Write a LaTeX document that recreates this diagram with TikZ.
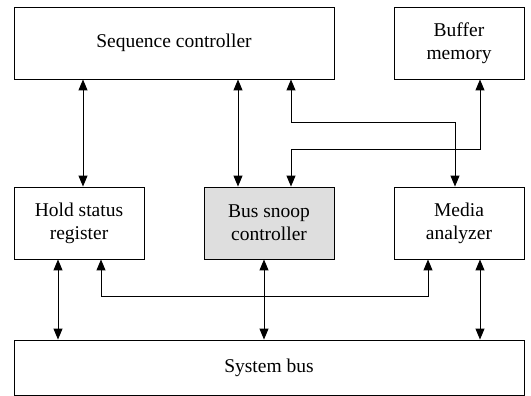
\documentclass[tikz,border=0pt]{standalone}
\usepackage{fontspec}
\setmainfont{Liberation Serif}
\usetikzlibrary{arrows.meta}
\begin{document}
\begin{tikzpicture}[x=1pt,y=-1pt,
  block/.style={draw,line width=0.9pt,rectangle,minimum height=72pt,
    inner sep=0pt,align=center,
    font=\fontsize{19.5pt}{23pt}\selectfont},
  link/.style={line width=1pt,
    {Triangle[length=11pt,width=9pt]}-{Triangle[length=11pt,width=9pt]}}]
\useasboundingbox (0,0) rectangle (531,396);

% blocks
\node[block,minimum width=320pt] (seq) at (174,43) {Sequence controller};
\node[block,minimum width=130pt] (buf) at (459,43) {Buffer\\memory};
\node[block,minimum width=130pt] (hold) at (79,223) {Hold status\\register};
\node[block,minimum width=130pt,fill=black!13] (snoop) at (269,223) {Bus snoop\\controller};
\node[block,minimum width=130pt] (media) at (459,223) {Media\\analyzer};
\node[block,minimum width=510pt,minimum height=55pt] (bus) at (269,367.5) {System bus};

% columns and routing levels
\coordinate (xa) at (83,0);
\coordinate (xb) at (238,0);
\coordinate (xc) at (291,0);
\coordinate (xd) at (455,0);
\coordinate (xe) at (480,0);
\coordinate (ya) at (0,123);
\coordinate (yb) at (0,150);
\coordinate (xf) at (58,0);
\coordinate (xg) at (101,0);
\coordinate (xh) at (264,0);
\coordinate (xi) at (428,0);
\coordinate (yc) at (0,296);

% upper links
\draw[link] (seq.south -| xa) -- (hold.north -| xa);
\draw[link] (seq.south -| xb) -- (snoop.north -| xb);
\draw[link] (seq.south -| xc) |- (xd |- ya) -- (media.north -| xd);
\draw[link] (buf.south -| xe) |- (xc |- yb) -- (snoop.north -| xc);

% lower links
\draw[link] (hold.south -| xf) -- (bus.north -| xf);
\draw[link] (snoop.south -| xh) -- (bus.north -| xh);
\draw[link] (media.south -| xe) -- (bus.north -| xe);
\draw[link] (hold.south -| xg) |- (xi |- yc) -- (media.south -| xi);
\end{tikzpicture}
\end{document}
